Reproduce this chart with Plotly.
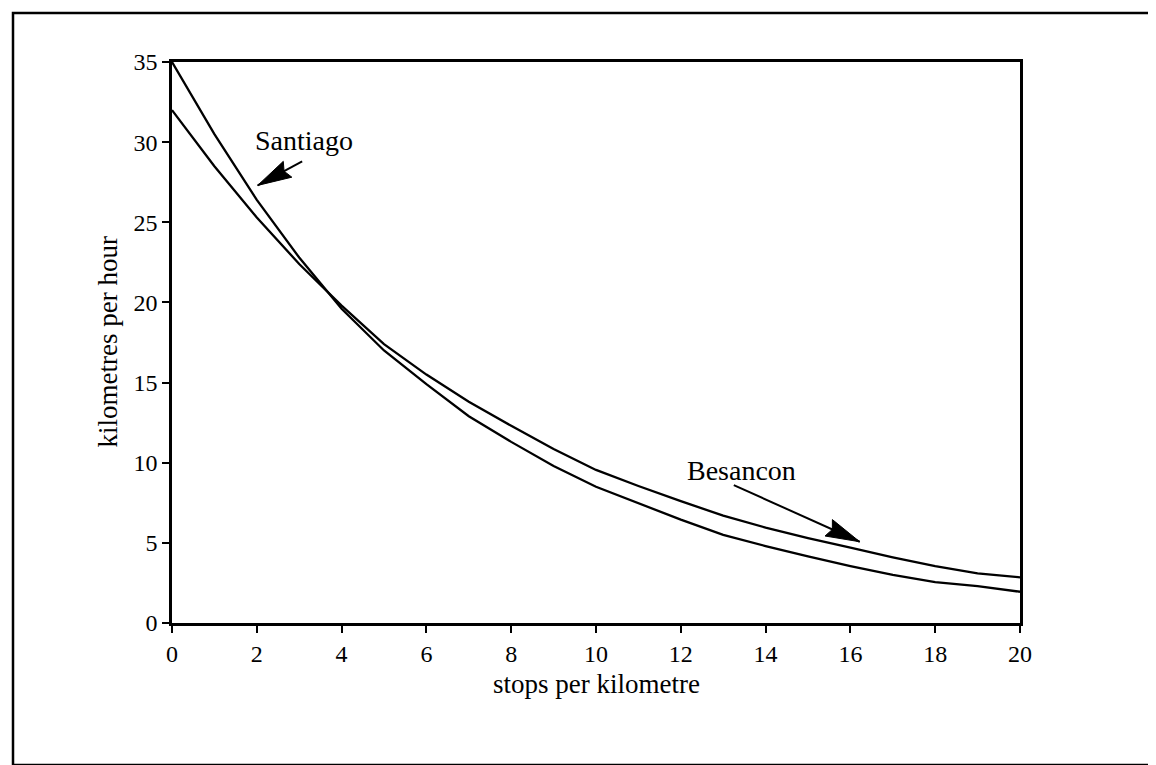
import numpy as np
import plotly.graph_objects as go

# ---- data ----
stops = list(range(21))
santiago = [35.0, 30.5, 26.4, 22.8, 19.6, 17.0, 14.9, 12.9, 11.3, 9.8, 8.5,
            7.45, 6.45, 5.5, 4.8, 4.15, 3.55, 3.0, 2.55, 2.3, 1.95]
besancon = [32.0, 28.5, 25.3, 22.4, 19.8, 17.4, 15.5, 13.8, 12.3, 10.85, 9.55,
            8.55, 7.6, 6.7, 5.95, 5.3, 4.7, 4.1, 3.55, 3.1, 2.85]
x_ticks = [0, 2, 4, 6, 8, 10, 12, 14, 16, 18, 20]
y_ticks = [0, 5, 10, 15, 20, 25, 30, 35]

label_names = ["Santiago", "Besancon"]
label_pos = [(3.12, 30.1), (13.44, 9.49)]
arrow_tail = [(3.07, 28.8), (13.25, 8.6)]
arrow_tip = [(2.02, 27.3), (16.22, 5.07)]

# ---- geometry ----
W, H = 1156, 765
ML, MR, MT, MB = 164, 144, 54, 150
plot_w = W - ML - MR
plot_h = H - MT - MB
kx = plot_w / 20.0
ky = plot_h / 35.0

FONT = "Liberation Serif"

fig = go.Figure()
for ys in (santiago, besancon):
    fig.add_trace(go.Scatter(x=stops, y=ys, mode="lines",
                             line=dict(color="black", width=2.3),
                             hoverinfo="skip"))

axis_common = dict(showline=True, linewidth=2.5, linecolor="black", mirror=True,
                   ticks="outside", ticklen=7, tickwidth=2, tickcolor="black",
                   showgrid=False, zeroline=False,
                   tickfont=dict(family=FONT, size=24, color="black"))
fig.update_xaxes(range=[0, 20], tickvals=x_ticks, **axis_common)
fig.update_yaxes(range=[0, 35], tickvals=y_ticks, **axis_common)


def head_path(tail, tip, L=34.0, hw=9.0, notch=4.0):
    X0, Y0 = tail[0] * kx, tail[1] * ky
    X1, Y1 = tip[0] * kx, tip[1] * ky
    d = np.hypot(X1 - X0, Y1 - Y0)
    ux, uy = (X1 - X0) / d, (Y1 - Y0) / d
    nx, ny = -uy, ux
    bx, by = X1 - L * ux, Y1 - L * uy
    pts = [(X1, Y1), (bx + hw * nx, by + hw * ny), (bx + notch * ux, by + notch * uy),
           (bx - hw * nx, by - hw * ny)]
    return "M " + " L ".join(f"{px / kx:.4f},{py / ky:.4f}" for px, py in pts) + " Z"


shapes = []
# outer frame (pixel positions converted to paper units)
fx0, fx1 = (5 - ML) / plot_w, (1150 - ML) / plot_w
fy1, fy0 = (H - MB - 5) / plot_h, (H - MB - 757) / plot_h
shapes.append(dict(type="rect", xref="paper", yref="paper", x0=fx0, x1=fx1, y0=fy0, y1=fy1,
                   line=dict(color="black", width=2.5), fillcolor="rgba(0,0,0,0)", layer="below"))
for tail, tip in zip(arrow_tail, arrow_tip):
    shapes.append(dict(type="line", xref="x", yref="y", x0=tail[0], y0=tail[1],
                       x1=tip[0], y1=tip[1], line=dict(color="black", width=2)))
    shapes.append(dict(type="path", xref="x", yref="y", path=head_path(tail, tip),
                       fillcolor="black", line=dict(color="black", width=1)))

annotations = []
for name, (lx, ly) in zip(label_names, label_pos):
    annotations.append(dict(x=lx, y=ly, xref="x", yref="y", text=name, showarrow=False,
                            xanchor="center", yanchor="middle",
                            font=dict(family=FONT, size=28, color="black")))
annotations.append(dict(x=0.5, y=0, xref="paper", yref="paper", text="stops per kilometre",
                        showarrow=False, xanchor="center", yanchor="middle", yshift=-61,
                        font=dict(family=FONT, size=27, color="black")))
annotations.append(dict(x=0, y=0.5, xref="paper", yref="paper", text="kilometres per hour",
                        showarrow=False, xanchor="center", yanchor="middle", xshift=-65,
                        textangle=-90, font=dict(family=FONT, size=27, color="black")))

fig.update_layout(width=W, height=H, margin=dict(l=ML, r=MR, t=MT, b=MB, autoexpand=False),
                  paper_bgcolor="white", plot_bgcolor="white", showlegend=False,
                  shapes=shapes, annotations=annotations,
                  font=dict(family=FONT, size=26, color="black"))

fig.write_html("out.html")
